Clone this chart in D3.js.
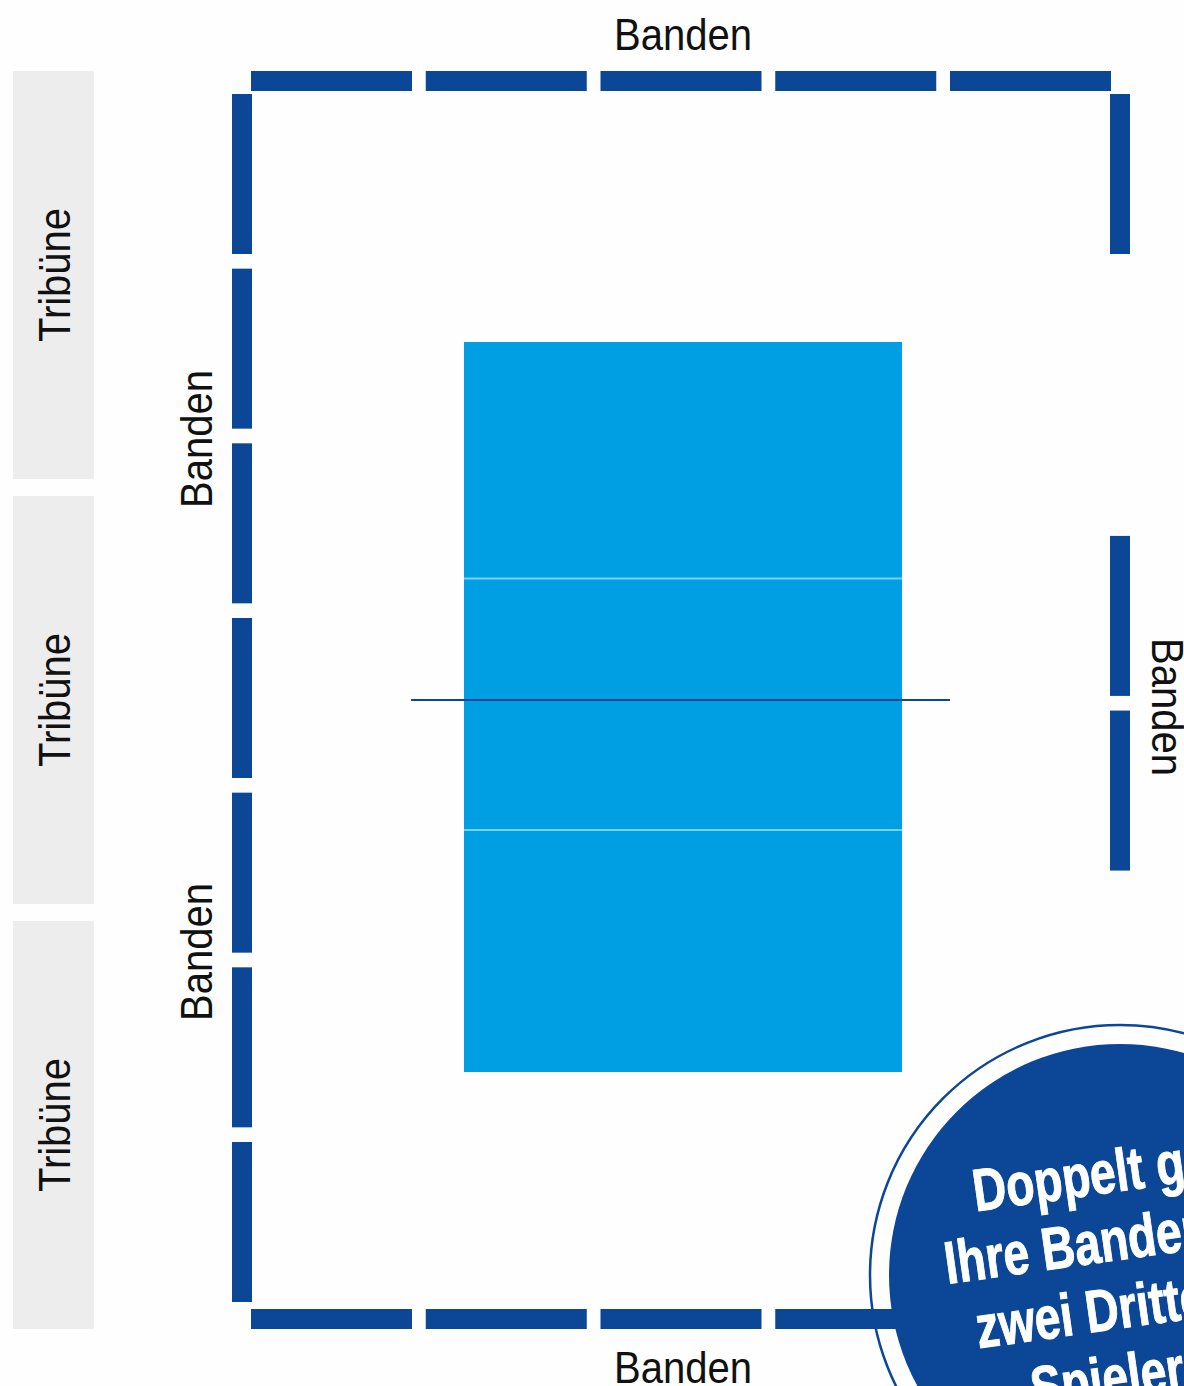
<!DOCTYPE html>
<html>
<head>
<meta charset="utf-8">
<script src="https://cdn.jsdelivr.net/npm/d3@7"></script>
<style>
  html, body { margin: 0; padding: 0; background: #fefefe; overflow: hidden; }
  text { font-family: "Liberation Sans", sans-serif; }
</style>
</head>
<body>
<div id="plan"></div>
<script>
// Hallenplan: Bandenplätze und Tribünen
const tribunen = ["Tribüne A", "Tribüne B", "Tribüne C"];
const bandenOben = [0, 1, 2, 3, 4];
const bandenUnten = [0, 1, 2, 3];
const bandenLinks = [0, 1, 2, 3, 4, 5, 6];
const bandenRechts = [0, 2.53, 3.53];
const spielfeldLinien = [6.48, 13.37];
const netzPosition = [9.81];
const labelBanden = "Banden";
const labelTribuene = "Tribüne";
const stoererZeilen = ["Doppelt gut!", "Ihre Banden sind", "zwei Dritteln der", "Spieler"];

const width = 1184, height = 1386;
const blau = "#0b4697", hellblau = "#009fe3", grau = "#ecedec";

const svg = d3.select("#plan")
  .append("svg")
    .attr("width", width)
    .attr("height", height)
    .style("display", "block");

// Skalen
const slotX = d3.scaleLinear().domain([0, 4]).range([251, 950]);
const slotY = d3.scaleLinear().domain([0, 6]).range([94, 1142]);
const tribY = d3.scaleBand().domain(tribunen).range([71, 1329]).paddingInner(0.04);
const feldY = d3.scaleLinear().domain([0, 20]).range([342, 1072]);
const boardLen = 161, boardThick = 20;

// Tribünen
svg.selectAll("rect.tribuene")
  .data(tribunen)
  .join("rect")
    .attr("class", "tribuene")
    .attr("x", 13)
    .attr("width", 81)
    .attr("y", d => tribY(d))
    .attr("height", tribY.bandwidth())
    .attr("fill", grau);

svg.selectAll("text.tribuene")
  .data(tribunen)
  .join("text")
    .attr("class", "tribuene")
    .attr("transform", d => `translate(70,${tribY(d) + tribY.bandwidth() / 2})rotate(-90)`)
    .attr("text-anchor", "middle")
    .attr("font-size", 45)
    .attr("textLength", 134)
    .attr("lengthAdjust", "spacingAndGlyphs")
    .attr("fill", "#111")
    .text(labelTribuene);

// Spielfeld
svg.append("rect")
  .attr("x", 464)
  .attr("width", 438)
  .attr("y", feldY(0))
  .attr("height", feldY(20) - feldY(0))
  .attr("fill", hellblau);

svg.selectAll("line.feld")
  .data(spielfeldLinien)
  .join("line")
    .attr("class", "feld")
    .attr("x1", 464)
    .attr("x2", 902)
    .attr("y1", d => feldY(d))
    .attr("y2", d => feldY(d))
    .attr("stroke", "#7fcff1")
    .attr("stroke-width", 2);

svg.selectAll("line.netz")
  .data(netzPosition)
  .join("line")
    .attr("class", "netz")
    .attr("x1", 411)
    .attr("x2", 950)
    .attr("y1", d => feldY(d))
    .attr("y2", d => feldY(d))
    .attr("stroke", blau)
    .attr("stroke-width", 2);

// Störer unten rechts
const stoerer = svg.append("g").attr("transform", "translate(1120,1275)");
stoerer.append("circle")
  .attr("r", 250)
  .attr("fill", "#fefefe")
  .attr("stroke", blau)
  .attr("stroke-width", 2.5);
stoerer.append("circle")
  .attr("r", 231)
  .attr("fill", blau);

// Banden
svg.selectAll("rect.oben")
  .data(bandenOben)
  .join("rect")
    .attr("class", "oben")
    .attr("x", d => slotX(d))
    .attr("y", 71)
    .attr("width", boardLen)
    .attr("height", boardThick)
    .attr("fill", blau);

svg.selectAll("rect.unten")
  .data(bandenUnten)
  .join("rect")
    .attr("class", "unten")
    .attr("x", d => slotX(d))
    .attr("y", 1309)
    .attr("width", boardLen)
    .attr("height", boardThick)
    .attr("fill", blau);

svg.selectAll("rect.links")
  .data(bandenLinks)
  .join("rect")
    .attr("class", "links")
    .attr("x", 232)
    .attr("y", d => slotY(d))
    .attr("width", boardThick)
    .attr("height", 160)
    .attr("fill", blau);

svg.selectAll("rect.rechts")
  .data(bandenRechts)
  .join("rect")
    .attr("class", "rechts")
    .attr("x", 1110)
    .attr("y", d => slotY(d))
    .attr("width", boardThick)
    .attr("height", 160)
    .attr("fill", blau);

// Beschriftung Banden
const bandenLabel = (transform) => svg.append("text")
  .attr("transform", transform)
  .attr("text-anchor", "middle")
  .attr("font-size", 45)
  .attr("textLength", 138)
  .attr("lengthAdjust", "spacingAndGlyphs")
  .attr("fill", "#111")
  .text(labelBanden);

bandenLabel("translate(683,50)");
bandenLabel("translate(683,1383)");
bandenLabel("translate(212,439)rotate(-90)");
bandenLabel("translate(212,952)rotate(-90)");
bandenLabel("translate(1152,707)rotate(90)");

// Text im Störer, Zeilenanfänge im gedrehten System
const zeilenStart = [-134, -172, -150, -104];
stoerer.append("g")
  .attr("transform", "rotate(-8)")
  .selectAll("text")
  .data(stoererZeilen)
  .join("text")
    .attr("transform", (d, i) => `translate(${zeilenStart[i]},${-83 + i * 68})scale(0.77,1)`)
    .attr("font-size", 60)
    .attr("font-weight", "bold")
    .attr("fill", "#fff")
    .attr("stroke", "#fff")
    .attr("stroke-width", 1)
    .text(d => d);
</script>
</body>
</html>
